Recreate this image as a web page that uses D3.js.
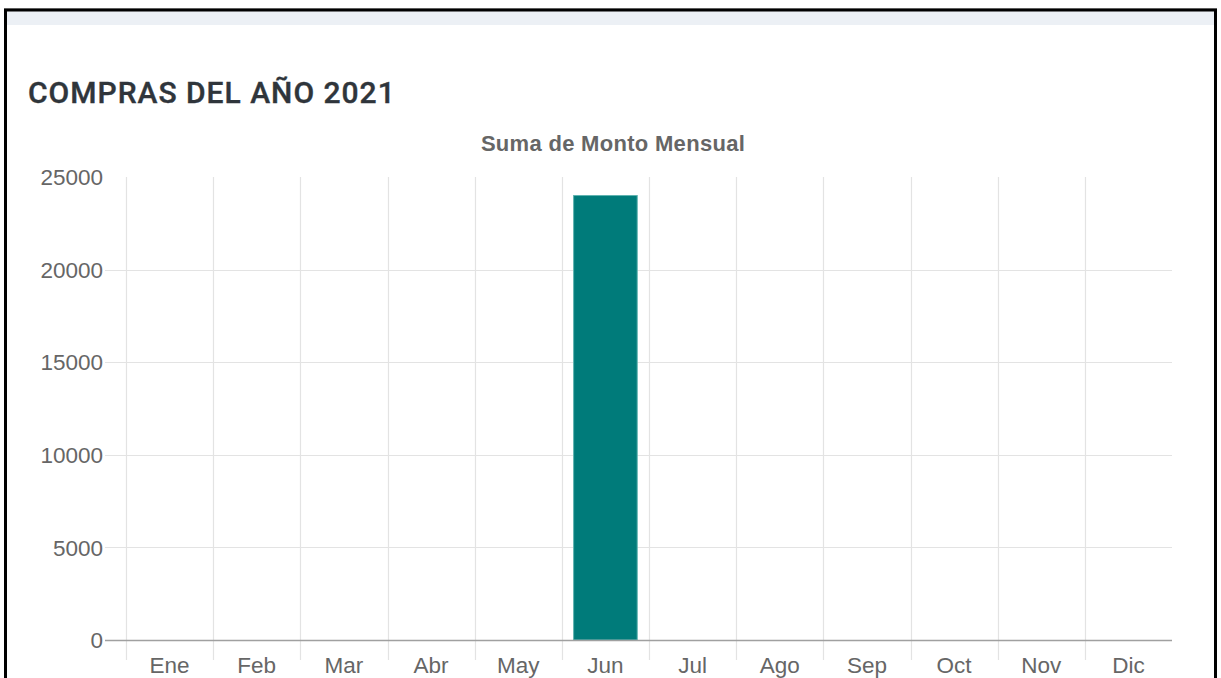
<!DOCTYPE html>
<html>
<head>
<meta charset="utf-8">
<script src="https://cdn.jsdelivr.net/npm/d3@7"></script>
<style>
  html, body { margin: 0; padding: 0; background: #ffffff; }
  svg { display: block; }
</style>
</head>
<body>
<svg id="chart" width="1221" height="678"></svg>
<script>
// Monthly purchase totals for 2021
const months = ["Ene", "Feb", "Mar", "Abr", "May", "Jun", "Jul", "Ago", "Sep", "Oct", "Nov", "Dic"];
const montos = [0, 0, 0, 0, 0, 24000, 0, 0, 0, 0, 0, 0];
const yTicks = [0, 5000, 10000, 15000, 20000, 25000];
const pageTitle = "COMPRAS DEL AÑO 2021";
const seriesLabel = "Suma de Monto Mensual";

const svg = d3.select("#chart");
const W = 1221, H = 678;

// Card frame
svg.append("rect").attr("x", 0).attr("y", 0).attr("width", W).attr("height", H).attr("fill", "#ffffff");
svg.append("rect").attr("x", 5).attr("y", 10).attr("width", 1210).attr("height", 15).attr("fill", "#ecf0f5");
svg.append("line").attr("x1", 4).attr("x2", 1217).attr("y1", 8.5).attr("y2", 8.5).attr("stroke", "#bbbbbb").attr("stroke-width", 1);
svg.append("path")
  .attr("d", "M5.5,700 V10 H1215.5 V700")
  .attr("fill", "none").attr("stroke", "#000000").attr("stroke-width", 3);

// Heading
svg.append("text")
  .attr("x", 28).attr("y", 102.5)
  .attr("font-family", "Roboto, 'Open Sans', sans-serif")
  .attr("font-weight", 500)
  .attr("font-size", 30)
  .attr("letter-spacing", 1)
  .attr("fill", "#2f353b")
  .attr("stroke", "#2f353b").attr("stroke-width", 0.4)
  .text(pageTitle);

// Plot area
const plotLeft = 126, plotRight = 1172, plotTop = 177, plotBottom = 640;
const x = d3.scaleBand().domain(months).range([plotLeft, plotRight]).padding(0);
const y = d3.scaleLinear().domain([0, 25000]).range([plotBottom, plotTop]);

const grid = svg.append("g");

// Vertical grid lines at category boundaries (with tick extension below axis)
grid.selectAll("line.v")
  .data(months)
  .join("line")
  .attr("class", "v")
  .attr("x1", d => Math.round(x(d)) + 0.5)
  .attr("x2", d => Math.round(x(d)) + 0.5)
  .attr("y1", plotTop)
  .attr("y2", plotBottom + 20)
  .attr("stroke", "#e3e3e3").attr("stroke-width", 1.2);

// Horizontal grid lines
grid.selectAll("line.h")
  .data(yTicks.filter(t => t > 0 && t < 25000))
  .join("line")
  .attr("class", "h")
  .attr("x1", plotLeft - 21).attr("x2", plotRight)
  .attr("y1", d => Math.round(y(d)) + 0.5)
  .attr("y2", d => Math.round(y(d)) + 0.5)
  .attr("stroke", "#e3e3e3").attr("stroke-width", 1.2);

// Bars
svg.append("g").selectAll("rect")
  .data(months.map((m, i) => ({ m, v: montos[i] })).filter(d => d.v > 0))
  .join("rect")
  .attr("x", d => x(d.m) + x.bandwidth() * 0.135)
  .attr("width", x.bandwidth() * 0.73)
  .attr("y", d => y(d.v))
  .attr("height", d => y(0) - y(d.v))
  .attr("fill", "#007b7a")
  .attr("stroke", "#5fb3b0").attr("stroke-width", 1);

// Zero line
svg.append("line")
  .attr("x1", plotLeft - 21).attr("x2", plotRight)
  .attr("y1", plotBottom + 0.5).attr("y2", plotBottom + 0.5)
  .attr("stroke", "#a0a0a0").attr("stroke-width", 1.5);

// Y tick labels
svg.append("g").selectAll("text")
  .data(yTicks)
  .join("text")
  .attr("x", 103)
  .attr("y", d => y(d))
  .attr("dy", "0.36em")
  .attr("text-anchor", "end")
  .attr("font-family", "'Liberation Sans', Arial, sans-serif")
  .attr("font-size", 22.5)
  .attr("fill", "#666666")
  .text(d => d);

// X tick labels
svg.append("g").selectAll("text")
  .data(months)
  .join("text")
  .attr("x", d => x(d) + x.bandwidth() / 2)
  .attr("y", 673)
  .attr("text-anchor", "middle")
  .attr("font-family", "'Liberation Sans', Arial, sans-serif")
  .attr("font-size", 22.5)
  .attr("fill", "#666666")
  .text(d => d);

// Dataset label
svg.append("text")
  .attr("x", (plotLeft + plotRight) / 2 - 36)
  .attr("y", 151)
  .attr("text-anchor", "middle")
  .attr("font-family", "'Liberation Sans', Arial, sans-serif")
  .attr("font-weight", "bold")
  .attr("font-size", 22)
  .attr("letter-spacing", 0.3)
  .attr("fill", "#666666")
  .text(seriesLabel);
</script>
</body>
</html>
